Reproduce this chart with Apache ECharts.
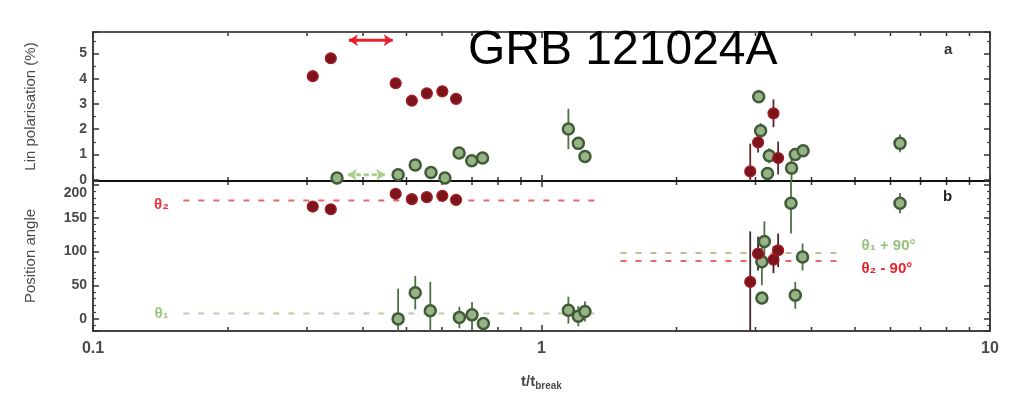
<!DOCTYPE html>
<html>
<head>
<meta charset="utf-8">
<script src="https://cdn.jsdelivr.net/npm/echarts@6/dist/echarts.min.js"></script>
<style>
  html, body { margin: 0; padding: 0; background: #fff; }
  #chart { width: 1014px; height: 393px; }
</style>
</head>
<body>
<div id="chart"></div>
<script>
// ---- data: time in units of the break time, t / t_break ----
// optical points (red): polarisation degree and position angle
const redT        = [0.309, 0.339, 0.473, 0.514, 0.555, 0.601, 0.645, 2.92, 3.04, 3.29, 3.37];
const redPol      = [4.10, 4.81, 3.82, 3.13, 3.42, 3.50, 3.20, 0.33, 1.48, 2.63, 0.86];
const redPolErr   = [0.10, 0.10, 0.10, 0.10, 0.10, 0.10, 0.10, 1.10, 0.40, 0.55, 0.65];
const redAng      = [167, 163, 186, 178, 181, 183, 177, 55, 97, 88, 102];
const redAngErr   = [3, 3, 3, 3, 3, 3, 3, 75, 25, 20, 25];

// near-infrared points (green): polarisation degree
const greenPolT   = [0.350, 0.479, 0.523, 0.567, 0.609, 0.655, 0.699, 0.739, 1.148, 1.208, 1.25, 3.05, 3.08, 3.19, 3.22, 3.61, 3.68, 3.83, 6.30];
const greenPol    = [0.07, 0.20, 0.58, 0.29, 0.07, 1.06, 0.75, 0.86, 2.01, 1.44, 0.92, 3.29, 1.94, 0.25, 0.95, 0.46, 1.00, 1.15, 1.44];
const greenPolErr = [0.12, 0.15, 0.20, 0.20, 0.15, 0.25, 0.15, 0.15, 0.80, 0.20, 0.15, 0.25, 0.30, 0.20, 0.30, 0.60, 0.20, 0.20, 0.35];

// near-infrared points (green): position angle
const greenAngT   = [0.479, 0.523, 0.565, 0.656, 0.700, 0.742, 1.148, 1.208, 1.25, 3.10, 3.10, 3.14, 3.60, 3.68, 3.82, 6.30];
const greenAng    = [0, 39, 12, 2, 6, -7, 13, 4, 11, 31, 85, 115, 172, 35, 92, 172];
const greenAngErr = [45, 25, 43, 16, 19, 8, 20, 15, 15, 8, 35, 30, 45, 20, 20, 15];

// mean angles and the time spans over which they are drawn
const theta1 = 8;
const theta2 = 176;
const earlySpan = [0.159, 1.35];
const lateSpan  = [1.50, 4.70];

// averaging windows shown as double arrows in panel a
const redWindowT   = [0.372, 0.466];
const redWindowY   = 5.52;
const greenWindowT = [0.370, 0.448];
const greenWindowY = 0.20;

// axis ticks
const xMajorLabels = ['0.1', '1', '10'];
const xMinorT = [0.2, 0.3, 0.4, 0.5, 0.6, 0.7, 0.8, 0.9, 2, 3, 4, 5, 6, 7, 8, 9];

// ---- styles ----
const FONT = '"Liberation Sans", Arial, sans-serif';
const RED_FILL = '#7c141c';
const RED_EDGE = '#a81e28';
const GREEN_FILL = '#98b486';
const GREEN_EDGE = '#3f5b38';
const RED_LINE = '#e36a6a';
const GREEN_LINE = '#b9cfa6';
const tickLabel = { color: '#4a4a4a', fontSize: 14, fontWeight: 'bold', fontFamily: FONT };

const zip3 = (t, v, e) => t.map((x, i) => [x, v[i] - e[i], v[i] + e[i]]);
const zip2 = (t, v) => t.map((x, i) => [x, v[i]]);

function errorBars(color) {
  return function (params, api) {
    const a = api.coord([api.value(0), api.value(1)]);
    const b = api.coord([api.value(0), api.value(2)]);
    return {
      type: 'line',
      shape: { x1: a[0], y1: a[1], x2: b[0], y2: b[1] },
      style: { stroke: color, lineWidth: 1.8 }
    };
  };
}

// minor ticks of the logarithmic time axis (2..9 within each decade)
function logMinorTicks(params, api) {
  const x = api.coord([api.value(0), api.value(1)])[0];
  const cs = params.coordSys;
  const bottom = cs.y + cs.height;
  return {
    type: 'group',
    children: [
      { type: 'line', shape: { x1: x, y1: bottom, x2: x, y2: bottom - 4 }, style: { stroke: '#333', lineWidth: 1.5 } },
      { type: 'line', shape: { x1: x, y1: cs.y, x2: x, y2: cs.y + 4 }, style: { stroke: '#333', lineWidth: 1.5 } }
    ]
  };
}

function xAxis(gridIndex, position, lineColor, showLabels) {
  return {
    type: 'log', logBase: 10, min: 0.1, max: 10,
    gridIndex, position,
    axisLine: { show: true, onZero: false, lineStyle: { color: lineColor, width: 2 } },
    axisTick: { show: true, inside: true, length: 6, lineStyle: { color: '#333', width: 1.5 } },
    splitLine: { show: false },
    axisLabel: { show: showLabels, ...tickLabel, fontSize: 16, margin: 10,
      formatter: v => xMajorLabels.find(s => Math.abs(parseFloat(s) - v) < 1e-9) || '' }
  };
}

function yAxis(gridIndex, position, min, max, minorSplit, showLabels, name) {
  return {
    type: 'value', gridIndex, position, min, max, splitNumber: 5,
    name: name || '', nameLocation: 'middle', nameGap: 55,
    nameTextStyle: { color: '#4a4a4a', fontSize: 15, fontFamily: FONT },
    axisLine: { show: true, onZero: false, lineStyle: { color: '#444', width: 2 } },
    axisTick: { show: true, inside: true, length: 6, lineStyle: { color: '#333', width: 1.5 } },
    minorTick: { show: true, splitNumber: minorSplit, length: 3, lineStyle: { color: '#444', width: 1.2 } },
    splitLine: { show: false },
    axisLabel: { show: showLabels, ...tickLabel, margin: 6, showMinLabel: false, showMaxLabel: false }
  };
}

function dashedLine(name, span, y, color, labelText, labelSide, labelColor, offsetY, xi, yi) {
  const labelItem = {
    value: labelSide === 'left' ? [span[0], y] : [span[1], y],
    label: {
      show: true, position: labelSide, distance: labelSide === 'left' ? 14 : 18,
      offset: [0, offsetY], formatter: labelText,
      color: labelColor, fontSize: 15, fontWeight: 'bold', fontFamily: FONT
    }
  };
  const plain = { value: labelSide === 'left' ? [span[1], y] : [span[0], y], label: { show: false } };
  return {
    name, type: 'line', xAxisIndex: xi, yAxisIndex: yi, z: 1,
    symbol: 'circle', symbolSize: 1, itemStyle: { color: 'transparent' },
    lineStyle: { color, width: 2, type: [6, 9] },
    data: labelSide === 'left' ? [labelItem, plain] : [plain, labelItem],
    animation: false, silent: true
  };
}

function windowArrow(name, span, y, color, dashed) {
  return {
    name, type: 'line', xAxisIndex: 0, yAxisIndex: 0, z: 3,
    symbol: 'arrow', symbolSize: [9, 9],
    lineStyle: { color, width: 3, type: dashed ? [5, 3] : 'solid' },
    itemStyle: { color },
    data: [
      { value: [span[0], y], symbolRotate: 90 },
      { value: [span[1], y], symbolRotate: -90 }
    ],
    animation: false, silent: true
  };
}

const angleAxisLeft = yAxis(1, 'left', -18, 205, 5, true, 'Position angle');
// the top angle label sits a little lower so it clears the panel boundary
angleAxisLeft.axisLabel.formatter = v => (v === 200 ? '{low|200}' : String(v));
angleAxisLeft.axisLabel.rich = { low: { ...tickLabel, padding: [18, 0, 0, 0] } };

const chart = echarts.init(document.getElementById('chart'));

chart.setOption({
  animation: false,
  backgroundColor: '#fff',
  title: {
    text: 'GRB 121024A', left: 468, top: 27, padding: 0,
    textStyle: { fontSize: 48, fontWeight: 'normal', color: '#000', fontFamily: FONT }
  },
  graphic: [
    { type: 'text', left: 944, top: 42, style: { text: 'a', fontSize: 15, fontWeight: 'bold', fill: '#333', fontFamily: FONT } },
    { type: 'text', left: 943, top: 189, style: { text: 'b', fontSize: 15, fontWeight: 'bold', fill: '#222', fontFamily: FONT } }
  ],
  grid: [
    { left: 93, right: 24, top: 32, height: 149, containLabel: false },
    { left: 93, right: 24, top: 181, height: 150, containLabel: false }
  ],
  xAxis: [
    xAxis(0, 'bottom', '#111', false),
    xAxis(0, 'top', '#555', false),
    Object.assign(xAxis(1, 'bottom', '#444', true), {
      name: '{a|t/t}{b|break}', nameLocation: 'middle', nameGap: 42,
      nameTextStyle: {
        color: '#4a4a4a', fontFamily: FONT,
        rich: {
          a: { fontSize: 15, fontWeight: 'bold', color: '#4a4a4a', fontFamily: FONT },
          b: { fontSize: 10, fontWeight: 'bold', color: '#4a4a4a', fontFamily: FONT, padding: [8, 0, 0, 0] }
        }
      }
    }),
    xAxis(1, 'top', '#111', false)
  ],
  yAxis: [
    yAxis(0, 'left', -0.05, 5.85, 2, true, 'Lin polarisation (%)'),
    yAxis(0, 'right', -0.05, 5.85, 2, false),
    angleAxisLeft,
    yAxis(1, 'right', -18, 205, 5, false)
  ],
  series: [
    { type: 'custom', xAxisIndex: 0, yAxisIndex: 0, renderItem: logMinorTicks, data: xMinorT.map(t => [t, 1]), silent: true, z: 0 },
    { type: 'custom', xAxisIndex: 2, yAxisIndex: 2, renderItem: logMinorTicks, data: xMinorT.map(t => [t, 50]), silent: true, z: 0 },

    // panel a: linear polarisation degree
    windowArrow('red window', redWindowT, redWindowY, '#e8202a', false),
    windowArrow('green window', greenWindowT, greenWindowY, '#a6d08a', true),
    { name: 'green pol err', type: 'custom', xAxisIndex: 0, yAxisIndex: 0, clip: true, z: 2,
      renderItem: errorBars('#4e7046'), data: zip3(greenPolT, greenPol, greenPolErr) },
    { name: 'red pol err', type: 'custom', xAxisIndex: 0, yAxisIndex: 0, clip: true, z: 2,
      renderItem: errorBars('#5a2a2e'), data: zip3(redT, redPol, redPolErr) },
    { name: 'green pol', type: 'scatter', xAxisIndex: 0, yAxisIndex: 0, z: 4, symbolSize: 11, clip: false,
      itemStyle: { color: GREEN_FILL, borderColor: GREEN_EDGE, borderWidth: 2.5, opacity: 1 }, data: zip2(greenPolT, greenPol) },
    { name: 'red pol', type: 'scatter', xAxisIndex: 0, yAxisIndex: 0, z: 5, symbolSize: 11, clip: false,
      itemStyle: { color: RED_FILL, borderColor: RED_EDGE, borderWidth: 1.2, opacity: 1 }, data: zip2(redT, redPol) },

    // panel b: position angle
    dashedLine('theta2', earlySpan, theta2, RED_LINE, 'θ₂', 'left', '#e8323a', 4, 2, 2),
    dashedLine('theta1', earlySpan, theta1, GREEN_LINE, 'θ₁', 'left', '#9cc67e', 0, 2, 2),
    dashedLine('theta1 + 90', lateSpan, theta1 + 90, '#c9b79a', 'θ₁ + 90°', 'right', '#98c27a', -7, 2, 2),
    dashedLine('theta2 - 90', lateSpan, theta2 - 90, RED_LINE, 'θ₂ - 90°', 'right', '#e8202a', 8, 2, 2),
    { name: 'green ang err', type: 'custom', xAxisIndex: 2, yAxisIndex: 2, clip: true, z: 2,
      renderItem: errorBars('#4e7046'), data: zip3(greenAngT, greenAng, greenAngErr) },
    { name: 'red ang err', type: 'custom', xAxisIndex: 2, yAxisIndex: 2, clip: true, z: 2,
      renderItem: errorBars('#3a2a2a'), data: zip3(redT, redAng, redAngErr) },
    { name: 'green ang', type: 'scatter', xAxisIndex: 2, yAxisIndex: 2, z: 4, symbolSize: 11, clip: false,
      itemStyle: { color: GREEN_FILL, borderColor: GREEN_EDGE, borderWidth: 2.5, opacity: 1 }, data: zip2(greenAngT, greenAng) },
    { name: 'red ang', type: 'scatter', xAxisIndex: 2, yAxisIndex: 2, z: 5, symbolSize: 11, clip: false,
      itemStyle: { color: RED_FILL, borderColor: RED_EDGE, borderWidth: 1.2, opacity: 1 }, data: zip2(redT, redAng) }
  ]
});
</script>
</body>
</html>
